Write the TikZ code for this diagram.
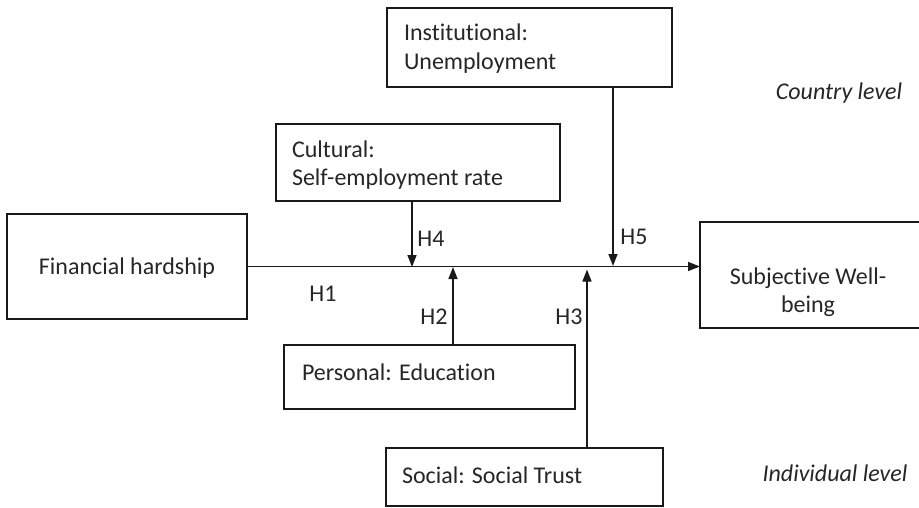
\documentclass[tikz,border=0pt]{standalone}
\usepackage{fontspec}
\setmainfont{Carlito}[Ligatures={NoCommon,NoRare}]
\usetikzlibrary{arrows.meta}
\begin{document}
\begin{tikzpicture}[x=1pt,y=-1pt,
  font=\fontsize{24}{28.5}\selectfont,
  box/.style={draw=black!90, line width=1.5pt, outer sep=0pt, inner sep=0pt},
  txt/.style={inner sep=0pt, outer sep=0pt, text=black!85},
  conn/.style={draw=black!90, line width=1.5pt},
  arr/.style={conn, -{Triangle[length=12pt,width=9pt]}},
  hlab/.style={inner sep=0pt, text=black!85}]
\useasboundingbox (0,0) rectangle (919,507);
\begin{scope}
\clip (0,0) rectangle (919,507);
% boxes
\node[box, minimum width=240, minimum height=105] (fin) at (127,266.5) {};
\node[txt] (fintxt) at (127,268) {Financial hardship};
\node[box, minimum width=225, minimum height=106] (swb) at (812.5,275) {};
\node[txt, align=center] (swbtxt) at (808,292) {Subjective Well-\\being};
\node[box, minimum width=285, minimum height=79] (inst) at (529.5,47.5) {};
\node[txt, align=left, anchor=west] (insttxt) at (404,48.5) {Institutional:\\Unemployment};
\node[box, minimum width=284, minimum height=77] (cult) at (418,162.5) {};
\node[txt, align=left, anchor=west] (culttxt) at (292,165) {Cultural:\\Self-employment rate};
\node[box, minimum width=291, minimum height=64] (pers) at (429.5,377) {};
\node[txt, anchor=west] (perstxt) at (302,372) {Personal: Education};
\node[box, minimum width=277, minimum height=58] (soc) at (524.5,477) {};
\node[txt, anchor=west] (soctxt) at (402,475) {Social: Social Trust};
% level labels
\node[txt, font=\fontsize{24}{28}\selectfont\itshape] (country) at (839,93) {Country level};
\node[txt, font=\fontsize{24}{28}\selectfont\itshape] (indiv) at (835,473) {Individual level};
% connectors
\coordinate (m4) at (412,267);
\coordinate (m2) at (453,267);
\coordinate (m3) at (587,269.5);
\coordinate (m5) at (613,266);
\draw[arr] (fin.east) -- (fin.east -| swb.west);
\draw[arr] (m4 |- cult.south) -- (m4);
\draw[arr] (m5 |- inst.south) -- (m5);
\draw[arr] (m2 |- pers.north) -- (m2);
\draw[arr] (m3 |- soc.north) -- (m3);
% hypothesis labels
\node[hlab] (h1) at (323,294) {H1};
\node[hlab] (h2) at (434,317) {H2};
\node[hlab] (h3) at (569,317) {H3};
\node[hlab] (h4) at (431,239) {H4};
\node[hlab] (h5) at (634,237) {H5};
\end{scope}
\end{tikzpicture}
\end{document}
